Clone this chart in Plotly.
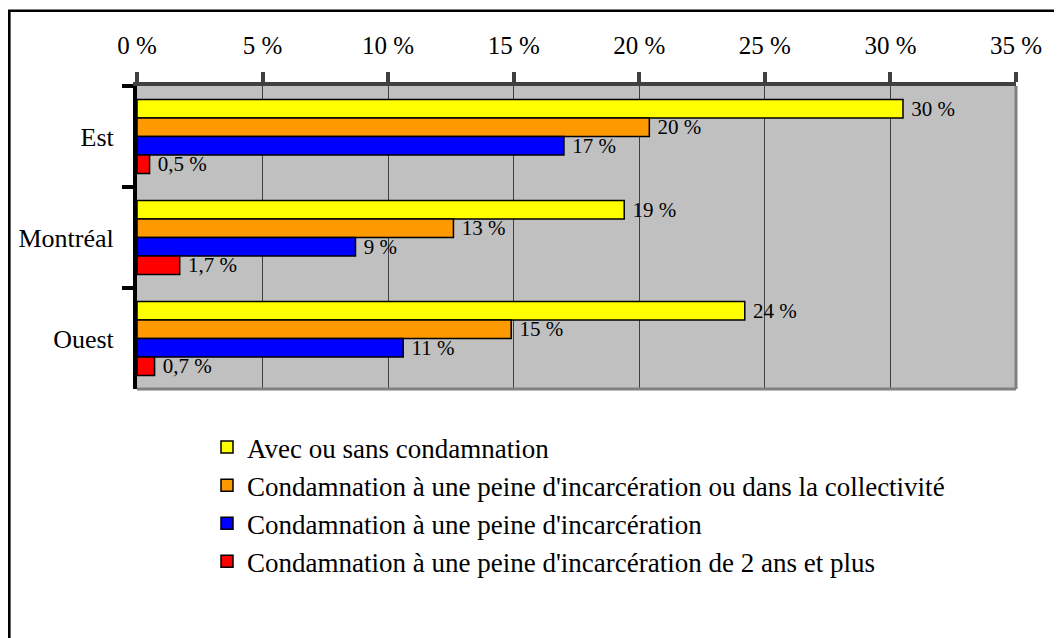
import plotly.graph_objects as go

categories = ["Est", "Montréal", "Ouest"]
series_names = [
    "Avec ou sans condamnation",
    "Condamnation à une peine d'incarcération ou dans la collectivité",
    "Condamnation à une peine d'incarcération",
    "Condamnation à une peine d'incarcération de 2 ans et plus",
]
avec_ou_sans = [30.5, 19.4, 24.2]
incarc_ou_collectivite = [20.4, 12.6, 14.9]
incarceration = [17.0, 8.7, 10.6]
incarc_2ans = [0.5, 1.7, 0.7]

labels_avec = ["30 %", "19 %", "24 %"]
labels_collect = ["20 %", "13 %", "15 %"]
labels_incarc = ["17 %", "9 %", "11 %"]
labels_2ans = ["0,5 %", "1,7 %", "0,7 %"]

tick_vals = [0, 5, 10, 15, 20, 25, 30, 35]
tick_text = [f"{v} %" for v in tick_vals]

colors = ["#FFFF00", "#FF9900", "#0000FF", "#FF0000"]
values = [avec_ou_sans, incarc_ou_collectivite, incarceration, incarc_2ans]
labels = [labels_avec, labels_collect, labels_incarc, labels_2ans]

FONT = "Liberation Serif, Times New Roman, serif"

fig = go.Figure()
for i in range(4):
    fig.add_trace(go.Bar(
        y=categories, x=values[i], orientation="h", name=series_names[i],
        marker=dict(color=colors[i], line=dict(color="black", width=1.5)),
        text=labels[i], texttemplate=" %{text}", textposition="outside",
        constraintext="none", cliponaxis=False,
        textfont=dict(family=FONT, size=21, color="black"),
        legendgroup=f"g{i}", hoverinfo="skip",
    ))

OFF = 8  # page body margin
W, H = 1062 - OFF, 638 - OFF
L, T = 137 - OFF, 86 - OFF
R = 1062 - 1016
B = 638 - 389
pw, ph = W - L - R, H - T - B

fig.update_layout(
    width=W, height=H,
    margin=dict(l=L, r=R, t=T, b=B, autoexpand=False),
    paper_bgcolor="white", plot_bgcolor="#C0C0C0",
    barmode="group", bargap=0.265, bargroupgap=0,
    font=dict(family=FONT, size=26, color="black"),
    showlegend=True,
    legend=dict(
        x=(207 - 137) / pw, xanchor="left",
        y=1 + (86 - 423) / ph, yanchor="top",
        traceorder="grouped", tracegroupgap=0,
        font=dict(family=FONT, size=27, color="black"),
        bgcolor="rgba(0,0,0,0)", borderwidth=0,
    ),
    xaxis=dict(
        side="top", range=[0, 35], tickmode="array", tickvals=tick_vals, ticktext=tick_text,
        showgrid=True, gridcolor="#404040", gridwidth=1, zeroline=False,
        showline=True, linecolor="#404040", linewidth=4,
        ticks="outside", ticklen=10, tickwidth=4, tickcolor="#404040",
        ticklabelstandoff=8, automargin=False,
        tickfont=dict(family=FONT, size=25, color="black"),
    ),
    yaxis=dict(
        autorange="reversed", showgrid=False, zeroline=False,
        showline=True, linecolor="black", linewidth=4,
        ticks="outside", ticklen=11, tickwidth=4, tickcolor="black",
        tickson="boundaries", ticklabelstandoff=14, automargin=False,
        tickfont=dict(family=FONT, size=26, color="black"),
    ),
    shapes=[
        dict(type="line", xref="x domain", yref="y domain", x0=0, x1=1, y0=0, y1=0,
             line=dict(color="#808080", width=3)),
        dict(type="line", xref="x domain", yref="y domain", x0=1, x1=1, y0=0, y1=1,
             line=dict(color="#808080", width=3)),
        dict(type="rect", xref="paper", yref="paper",
             x0=(1.3 - L) / pw, x1=1.3, y0=-1.5, y1=1 + (T - 2.7) / ph,
             line=dict(color="black", width=2.6), fillcolor="rgba(0,0,0,0)", layer="below"),
    ],
)

fig.write_html("out.html")
